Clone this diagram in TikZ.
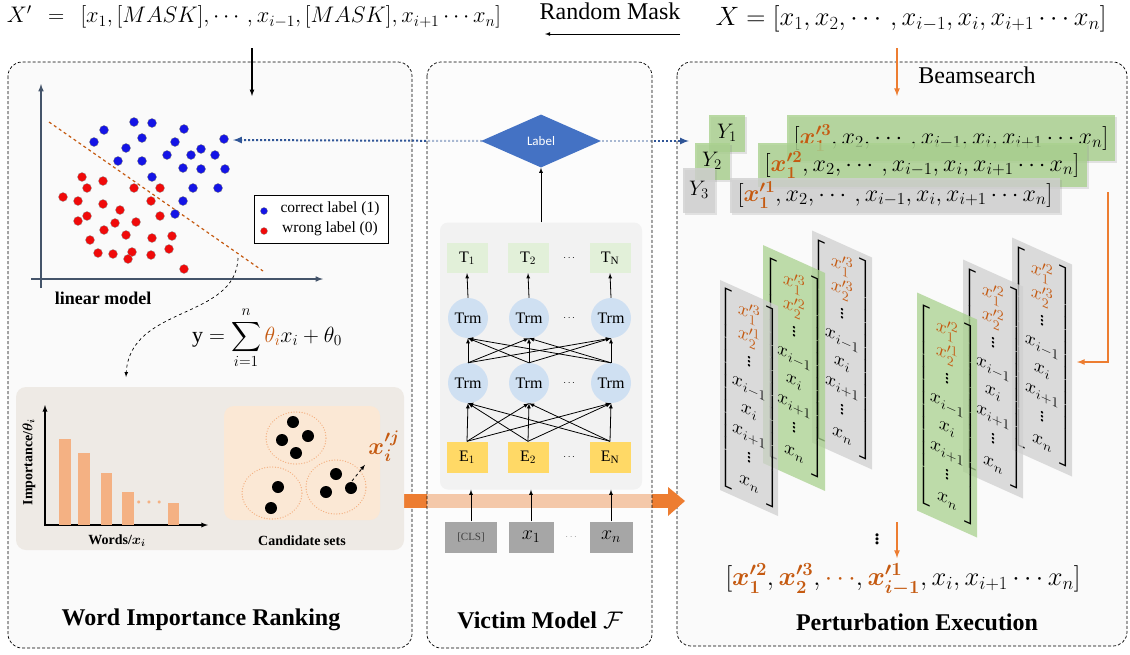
\documentclass[tikz,border=0pt]{standalone}
\usepackage{fix-cm}
\usepackage{amsmath}
\usepackage{fontspec}
\setmainfont{Liberation Serif}
\newfontfamily\labelfont{Carlito}
\usetikzlibrary{shapes,shadows}
\definecolor{wir_orange}{RGB}{237,125,49}
\definecolor{wir_text}{RGB}{197,90,17}
\definecolor{wir_bar}{RGB}{244,177,131}
\definecolor{wir_axis}{RGB}{68,84,106}
\definecolor{wir_rank}{RGB}{238,234,229}
\definecolor{wir_cand}{RGB}{251,232,213}
\definecolor{panel_fill}{RGB}{250,250,250}
\definecolor{vm_box}{RGB}{242,242,242}
\definecolor{vm_t}{RGB}{226,240,217}
\definecolor{vm_trm}{RGB}{207,224,242}
\definecolor{vm_e}{RGB}{255,217,102}
\definecolor{vm_in}{RGB}{166,166,166}
\definecolor{vm_label}{RGB}{68,114,196}
\definecolor{vm_dots}{RGB}{47,85,151}
\definecolor{pe_green}{RGB}{169,209,142}
\definecolor{pe_gray}{RGB}{208,208,208}
\definecolor{dot_blue}{RGB}{20,20,230}
\definecolor{dot_red}{RGB}{240,10,10}
\tikzstyle{panel}=[draw=black,dash pattern=on 3pt off 2pt,line width=0.7pt,
  fill=panel_fill,rounded corners=14pt]
\tikzstyle{tbox}=[fill=vm_t,minimum width=41pt,minimum height=30pt,inner sep=0pt,
  font=\fontsize{16}{18}\selectfont]
\tikzstyle{ebox}=[fill=vm_e,minimum width=41pt,minimum height=31pt,inner sep=0pt,
  font=\fontsize{16}{18}\selectfont]
\tikzstyle{trm}=[circle,fill=vm_trm,minimum size=40pt,inner sep=0pt,
  font=\fontsize{16}{18}\selectfont]
\tikzstyle{inbox}=[fill=vm_in,minimum height=31pt,inner sep=0pt]
\tikzstyle{bdot}=[fill=dot_blue,draw=black!50,line width=0.3pt]
\tikzstyle{rdot}=[fill=dot_red,draw=black!40,line width=0.3pt]
\tikzstyle{band}=[fill opacity=0.8,text opacity=1,inner sep=0pt,drop shadow={opacity=0.2}]
\tikzstyle{slab}=[fill opacity=0.75,draw=none]
\tikzstyle{cset}=[draw=wir_bar,line width=1.3pt,dash pattern=on 0.1pt off 2.6pt,line cap=round]
\tikzstyle{title}=[font=\fontsize{24}{28}\selectfont\bfseries]
\tikzstyle{arr}=[->,>=latex,line width=0.8pt]
\tikzstyle{oarr}=[->,>=latex,draw=wir_orange,line width=1.6pt]
\tikzstyle{bluedots}=[draw=vm_dots,line width=2pt,dash pattern=on 2pt off 2pt,->,>=latex]
\tikzstyle{mcol}=[transform shape,font=\fontsize{20}{20}\selectfont]
\renewcommand{\arraystretch}{1.2}
\newcommand{\pertb}[2]{\textcolor{wir_text}{\boldsymbol{x^{\prime #1}_{#2}}}}
\newcommand{\perto}[2]{\textcolor{wir_text}{x^{\prime #1}_{#2}}}
\newcommand{\pemat}[2]{$\begin{bmatrix}\perto{#1}{1}\\ \perto{#2}{2}\\ \vdots\\ x_{i-1}\\ x_i\\ x_{i+1}\\ \vdots\\ x_n\end{bmatrix}$}
\begin{document}
\begin{tikzpicture}[x=1pt,y=-1pt]
  \useasboundingbox (0,0) rectangle (1130,654);
  \draw[panel] (8,62) rectangle (412,648);
  \draw[panel] (677,62) rectangle (1127,646);

  \node[font=\fontsize{22.5}{26}\selectfont] (xmask) at (254,17) {$X'\;\,=\;\,[x_1,[MASK],\cdots,x_{i-1},[MASK],x_{i+1}\cdots x_n]$};
  \node[font=\fontsize{24}{28}\selectfont] (rmask) at (610,11) {Random Mask};
  \coordinate (rmR) at (680,34);
  \coordinate (rmL) at (545,34);
  \draw[arr] (rmR) -- (rmL);
  \node[font=\fontsize{26.5}{30}\selectfont] (xorig) at (911,19) {$X=[x_1,x_2,\cdots,x_{i-1},x_i,x_{i+1}\cdots x_n]$};
  \coordinate (lmtop) at (252,48);
  \coordinate (lmin) at (252,96);
  \draw[arr,line width=1.2pt] (lmtop) -- (lmin);
  \coordinate (bstop) at (897,48);
  \coordinate (bsin) at (897,96);
  \draw[oarr] (bstop) -- (bsin);
  \node[font=\fontsize{24}{28}\selectfont] (beam) at (977,75) {Beamsearch};

  \fill[wir_orange] (395,494) rectangle (668,508);
  \fill[wir_orange] (668,487) -- (685,501) -- (668,516) -- cycle;
  \coordinate (lblW) at (482,141);
  \coordinate (lblE) at (602,141);
  \coordinate (scat) at (233,140);
  \coordinate (yin) at (689,141);
  \draw[bluedots] (lblW) -- (scat);
  \draw[bluedots] (lblE) -- (yin);
  \draw[panel,fill opacity=0.6] (427,62) rectangle (652,648);

  \draw[wir_axis,line width=1.5pt,->,>=latex] (41,288) -- (41,84);
  \draw[wir_axis,line width=1.5pt,->,>=latex] (31,279) -- (323,279);
  \draw[wir_text,dashed,line width=1.2pt] (49,122) -- (263,271);
  \foreach \p in {(134,122),(152,123),(104,130),(184,129),(94,142),(142,138),(175,142),
    (224,139),(126,148),(201,149),(167,155),(191,155),(215,155),(118,161),(142,161),
    (183,168),(201,169),(225,169),(152,177),(193,188),(218,188),(183,201),(175,214)}
    \filldraw[bdot] \p circle (4.5pt);
  \foreach \p in {(82,177),(103,181),(87,188),(134,188),(160,188),(63,197),(78,201),
    (151,201),(103,204),(120,210),(87,216),(78,221),(160,216),(115,223),(136,222),
    (104,230),(126,235),(152,238),(172,236),(90,240),(98,253),(113,254),(132,252),
    (128,259),(151,255),(169,249),(184,269)}
    \filldraw[rdot] \p circle (4.5pt);
  \draw[fill=white,line width=0.8pt] (254,195) rectangle (388,243);
  \filldraw[bdot] (264,211) circle (3.5pt);
  \node[font=\fontsize{15.5}{17}\selectfont] (lgc) at (330,209) {correct label (1)};
  \filldraw[rdot] (264,231) circle (3.5pt);
  \node[font=\fontsize{15.5}{17}\selectfont] (lgw) at (330,229) {wrong label (0)};
  \node[font=\fontsize{18}{21}\selectfont\bfseries] (lmod) at (103,298) {linear model};
  \node[font=\fontsize{22}{26}\selectfont] (ysum) at (267,338) {$\displaystyle \mathrm{y}=\sum_{i=1}^{n}\textcolor{wir_text}{\theta_i}x_i+\theta_0$};
  \coordinate (lmcut) at (238,258);
  \coordinate (rankin) at (126,377);
  \draw[dashed,->,>=latex,line width=0.7pt] (lmcut) .. controls (236,320) and (130,305) .. (rankin);

  \fill[wir_rank,rounded corners=10pt] (16,387) rectangle (404,550);
  \draw[line width=1.3pt,->,>=latex] (45,525) -- (45,405);
  \draw[line width=1.3pt,->,>=latex] (44,525) -- (208,525);
  \fill[wir_bar] (59,439) rectangle (71,525);
  \fill[wir_bar] (78,453) rectangle (90,525);
  \fill[wir_bar] (101,473) rectangle (112,525);
  \fill[wir_bar] (122,492) rectangle (134,525);
  \fill[wir_bar] (168,503) rectangle (179,525);
  \node[text=wir_bar,font=\fontsize{20}{20}\selectfont] (bdots) at (151,503) {$\boldsymbol{\cdots}$};
  \node[rotate=90,font=\fontsize{14}{16}\selectfont\bfseries] (imp) at (29,462) {Importance/$\boldsymbol{\theta_i}$};
  \node[font=\fontsize{14}{16}\selectfont\bfseries] (words) at (117,541) {Words/$\boldsymbol{x_i}$};
  \fill[wir_cand,rounded corners=10pt] (224,406) rectangle (380,520);
  \draw[cset] (296,438) ellipse [x radius=30pt,y radius=26pt];
  \draw[cset] (272,493) ellipse [x radius=30pt,y radius=26pt];
  \draw[cset] (336,487) ellipse [x radius=30pt,y radius=27pt];
  \fill (293,422) circle (6pt);
  \fill (282,440) circle (6pt);
  \fill (308,436) circle (6pt);
  \fill (296,453) circle (6pt);
  \fill (278,487) circle (6pt);
  \fill (271,508) circle (6pt);
  \fill (336,474) circle (6pt);
  \fill (326,492) circle (6pt);
  \fill (351,488) circle (6pt);
  \node[text=wir_text,font=\fontsize{24}{28}\selectfont] (xij) at (384,446) {$\boldsymbol{x^{\prime j}_{i}}$};
  \coordinate (cpick) at (352,481);
  \draw[dashed,->,>=latex,line width=0.8pt] (cpick) -- (xij.south west);
  \node[font=\fontsize{14}{16}\selectfont\bfseries] (cands) at (302,541) {Candidate sets};
  \node[title] (wir) at (201,620) {Word Importance Ranking};

  \node[fill=vm_box,rounded corners=8pt,minimum width=202pt,minimum height=267pt] (vbox) at (541,356) {};
  \node[diamond,fill=vm_label,minimum width=120pt,minimum height=53pt,inner sep=0pt,
    text=white,font=\labelfont\fontsize{13}{15}\selectfont] (label) at (541,141) {Label};
  \draw[arr] (vbox.north) -- (label.south);
  \node[tbox] (t1) at (467,258) {T$_1$};
  \node[tbox] (t2) at (528,258) {T$_2$};
  \node[tbox] (tN) at (610,258) {T$_\mathrm{N}$};
  \node[trm] (u1) at (468,318) {Trm};
  \node[trm] (u2) at (529,318) {Trm};
  \node[trm] (uN) at (611,318) {Trm};
  \node[trm] (l1) at (468,383) {Trm};
  \node[trm] (l2) at (529,383) {Trm};
  \node[trm] (lN) at (611,383) {Trm};
  \node[ebox] (e1) at (467,457) {E$_1$};
  \node[ebox] (e2) at (528,457) {E$_2$};
  \node[ebox] (eN) at (610,457) {E$_\mathrm{N}$};
  \node (tdots) at (570,258) {$\cdots$};
  \node (udots) at (570,318) {$\cdots$};
  \node (ldots) at (570,383) {$\cdots$};
  \node (edots) at (570,457) {$\cdots$};
  \foreach \a in {1,2,N} {
    \foreach \b in {1,2,N} {
      \draw[arr] (e\a.north) -- (l\b.south);
      \draw[arr] (l\a.north) -- (u\b.south);
    }
    \draw[arr] (u\a.north) -- (t\a.south);
  }
  \node[inbox,minimum width=52pt,text=black!75,font=\fontsize{11}{13}\selectfont] (cls) at (471,537) {[CLS]};
  \node[inbox,minimum width=45pt,font=\fontsize{20}{22}\selectfont] (in1) at (531,537) {$x_1$};
  \node[inbox,minimum width=43pt,font=\fontsize{20}{22}\selectfont] (inn) at (611,537) {$x_n$};
  \node[text=black!40] (indots) at (572,537) {$\cdots$};
  \draw[arr] (cls.north) -- (cls.north |- vbox.south);
  \draw[arr] (in1.north) -- (in1.north |- vbox.south);
  \draw[arr] (inn.north) -- (inn.north |- vbox.south);
  \node[title] (vm) at (540,620) {Victim Model $\mathcal{F}$};

  \node[band,fill=pe_green,minimum width=328pt,minimum height=46pt,font=\fontsize{24}{28}\selectfont] (row1) at (951,138) {$[\pertb{3}{1},x_2,\cdots,x_{i-1},x_i,x_{i+1}\cdots x_n]$};
  \node[band,fill=pe_green,minimum width=36pt,minimum height=37pt,font=\fontsize{21}{25}\selectfont] (Y1) at (727,133) {$Y_1$};
  \node[band,fill=pe_green,minimum width=329pt,minimum height=44pt,font=\fontsize{24}{28}\selectfont] (row2) at (922,165) {$[\pertb{2}{1},x_2,\cdots,x_{i-1},x_i,x_{i+1}\cdots x_n]$};
  \node[band,fill=pe_green,minimum width=35pt,minimum height=37pt,font=\fontsize{21}{25}\selectfont] (Y2) at (712,161) {$Y_2$};
  \node[band,fill=pe_gray,minimum width=330pt,minimum height=35pt,font=\fontsize{24}{28}\selectfont] (row3) at (895,195) {$[\pertb{1}{1},x_2,\cdots,x_{i-1},x_i,x_{i+1}\cdots x_n]$};
  \node[band,fill=pe_gray,minimum width=32pt,minimum height=45pt,font=\fontsize{21}{25}\selectfont] (Y3) at (699,190) {$Y_3$};
  \coordinate (r3out) at (1108,192);
  \coordinate (matin) at (1077,362);
  \draw[oarr] (r3out) |- (matin);

  \begin{scope}[shift={(842,350)},yslant=-0.45]
    \fill[slab,pe_gray] (-30,-106) rectangle (30,106);
    \node[mcol] (m33) at (0,0) {\pemat{3}{3}};
  \end{scope}
  \begin{scope}[shift={(794,368)},yslant=-0.45]
    \fill[slab,pe_green] (-31,-109) rectangle (31,109);
    \node[mcol] (m32) at (0,0) {\pemat{3}{2}};
  \end{scope}
  \begin{scope}[shift={(749,398)},yslant=-0.45]
    \fill[slab,pe_gray] (-29,-105) rectangle (29,105);
    \node[mcol] (m31) at (0,0) {\pemat{3}{1}};
  \end{scope}
  \begin{scope}[shift={(1042,357)},yslant=-0.45]
    \fill[slab,pe_gray] (-30,-106) rectangle (30,106);
    \node[mcol] (m23) at (0,0) {\pemat{2}{3}};
  \end{scope}
  \begin{scope}[shift={(993,379)},yslant=-0.45]
    \fill[slab,pe_gray] (-30,-106) rectangle (30,106);
    \node[mcol] (m22) at (0,0) {\pemat{2}{2}};
  \end{scope}
  \begin{scope}[shift={(947,415)},yslant=-0.45]
    \fill[slab,pe_green] (-30,-109) rectangle (30,109);
    \node[mcol] (m21) at (0,0) {\pemat{2}{1}};
  \end{scope}

  \node[font=\fontsize{26}{26}\selectfont] (vd) at (877,536) {$\boldsymbol{\vdots}$};
  \coordinate (fintop) at (897,522);
  \coordinate (finin) at (897,558);
  \draw[oarr] (fintop) -- (finin);
  \node[font=\fontsize{26.5}{30}\selectfont] (final) at (903,580) {$[\pertb{2}{1},\pertb{3}{2},\textcolor{wir_text}{\cdots},\pertb{1}{i-1},x_i,x_{i+1}\cdots x_n]$};
  \node[title] (pe) at (917,622) {Perturbation Execution};
\end{tikzpicture}
\end{document}
